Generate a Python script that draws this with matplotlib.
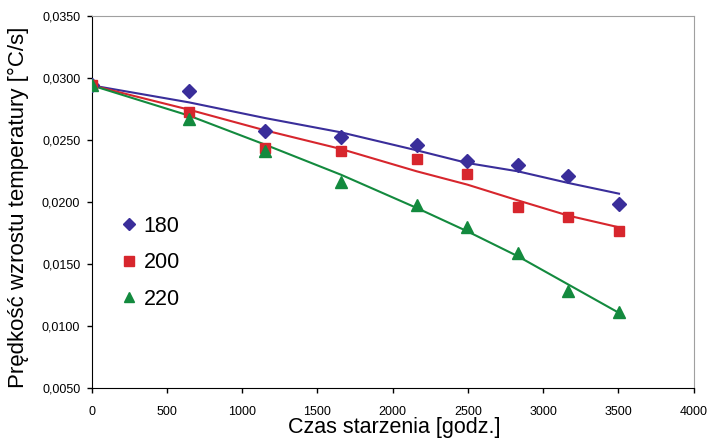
import matplotlib.pyplot as plt
from matplotlib.ticker import FuncFormatter

plt.rcParams['font.family'] = ['Liberation Sans', 'DejaVu Sans']

# aging time [h]
hours = [0, 648, 1152, 1656, 2160, 2496, 2832, 3168, 3504]

# measured points
rate_180 = [0.02939, 0.02891, 0.02569, 0.02520, 0.02456, 0.02327, 0.02301, 0.02207, 0.01987]
rate_200 = [0.02939, 0.02725, 0.02435, 0.02413, 0.02346, 0.02226, 0.01957, 0.01876, 0.01769]
rate_220 = [0.02939, 0.02668, 0.02408, 0.02158, 0.01979, 0.01796, 0.01590, 0.01281, 0.01112]

# trend lines
trend_180 = [0.02939, 0.02802, 0.02676, 0.02561, 0.02416, 0.02314, 0.02247, 0.02153, 0.02067]
trend_200 = [0.02939, 0.02743, 0.02577, 0.02427, 0.02247, 0.02140, 0.02013, 0.01890, 0.01796]
trend_220 = [0.02939, 0.02695, 0.02462, 0.02220, 0.01952, 0.01764, 0.01563, 0.01335, 0.01107]

labels = ['180', '200', '220']
colors = ['#3a2e9a', '#d7262d', '#138a3e']
markers = ['D', 's', '^']
msizes = [7, 7.7, 8]

fig = plt.figure(figsize=(7.1, 4.42), dpi=100)
ax = fig.add_axes([0.129, 0.1215, 0.848, 0.843])

for tr, pts, lab, c, m, ms in zip([trend_180, trend_200, trend_220],
                                  [rate_180, rate_200, rate_220],
                                  labels, colors, markers, msizes):
    ax.plot(hours, tr, color=c, linewidth=1.5, zorder=2)
    ax.plot(hours, pts, linestyle='none', marker=m, markersize=ms,
            color=c, label=lab, zorder=3)

ax.set_xlim(0, 4000)
ax.set_ylim(0.005, 0.035)
ax.set_xticks(range(0, 4001, 500))
ax.set_yticks([0.005, 0.010, 0.015, 0.020, 0.025, 0.030, 0.035])
ax.yaxis.set_major_formatter(FuncFormatter(lambda v, p: f"{v:.4f}".replace('.', ',')))
ax.tick_params(labelsize=9, length=3.6, width=1, direction='out')
ax.tick_params(axis='x', pad=9)
ax.tick_params(axis='y', pad=4.5)

ax.spines['top'].set_color('#a0a0a0')
ax.spines['right'].set_color('#a0a0a0')

ax.set_xlabel('Czas starzenia [godz.]', fontsize=15.5)
ax.xaxis.set_label_coords(0.502, -0.078)
ax.set_ylabel('Prędkość wzrostu temperatury [°C/s]', fontsize=16)
ax.yaxis.set_label_coords(-0.104, 0.487)

ax.legend(loc='upper left', bbox_to_anchor=(0.045, 0.463), frameon=False,
          fontsize=15.5, handlelength=1.0, handletextpad=0.15,
          labelspacing=0.72, markerscale=0.85, borderpad=0, borderaxespad=0)

fig.savefig('out.png', dpi=100)
